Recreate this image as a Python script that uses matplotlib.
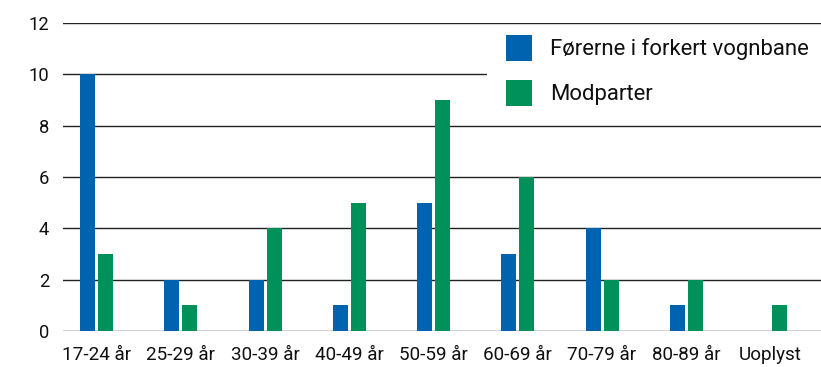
import matplotlib
matplotlib.use("Agg")
import matplotlib.pyplot as plt
from matplotlib.patches import Patch, Rectangle
import numpy as np

plt.rcParams['font.family'] = ['Roboto', 'DejaVu Sans']

categories = ["17-24 år", "25-29 år", "30-39 år", "40-49 år", "50-59 år",
              "60-69 år", "70-79 år", "80-89 år", "Uoplyst"]
forerne = [10, 2, 2, 1, 5, 3, 4, 1, 0]
modparter = [3, 1, 4, 5, 9, 6, 2, 2, 1]
series_names = ["Førerne i forkert vognbane", "Modparter"]
yticks = [0, 2, 4, 6, 8, 10, 12]

blue = "#0063AF"
green = "#00915A"

W, H = 821, 367
fig = plt.figure(figsize=(W / 100, H / 100), dpi=100)
ax = fig.add_axes([63 / W, 36 / H, (W - 63) / W, 308 / H])

x = np.arange(len(categories))
bw = 0.178
off = 0.107
ax.bar(x - off, forerne, width=bw, color=blue, zorder=3)
ax.bar(x + off, modparter, width=bw, color=green, zorder=3)

ax.set_xlim(-0.4, 8.6)
ax.set_ylim(0, 12)
ax.set_yticks(yticks)
ax.set_xticks(x)
ax.set_xticklabels(categories)
ax.tick_params(axis='both', length=0, colors='#111111')
ax.tick_params(axis='y', pad=10, labelsize=13.2)
ax.tick_params(axis='x', pad=10.5, labelsize=13.6)
for s in ax.spines.values():
    s.set_visible(False)
ax.yaxis.grid(True, color='#222222', linewidth=1.0, zorder=0)
ax.set_axisbelow(True)

# white panel behind the legend, masking the gridlines
def fig_xy(px, py):
    return px / W, (H - py) / H

x0, y0 = fig_xy(487, 118)
x1, y1 = fig_xy(W, 29)
fig.patches.append(Rectangle((x0, y0), x1 - x0, y1 - y0,
                             transform=fig.transFigure, facecolor='white',
                             edgecolor='none', zorder=4))

handles = [Patch(facecolor=blue, edgecolor='none'),
           Patch(facecolor=green, edgecolor='none')]
leg = fig.legend(handles, series_names, loc='upper left',
                 bbox_to_anchor=fig_xy(506, 35), bbox_transform=fig.transFigure,
                 frameon=False, fontsize=15.9,
                 handlelength=1.18, handleheight=1.43, handletextpad=0.8,
                 labelspacing=0.85, borderpad=0, borderaxespad=0)
leg.set_zorder(6)
for t in leg.get_texts():
    t.set_color('#111111')

fig.savefig("out.png", dpi=100, facecolor='white')
